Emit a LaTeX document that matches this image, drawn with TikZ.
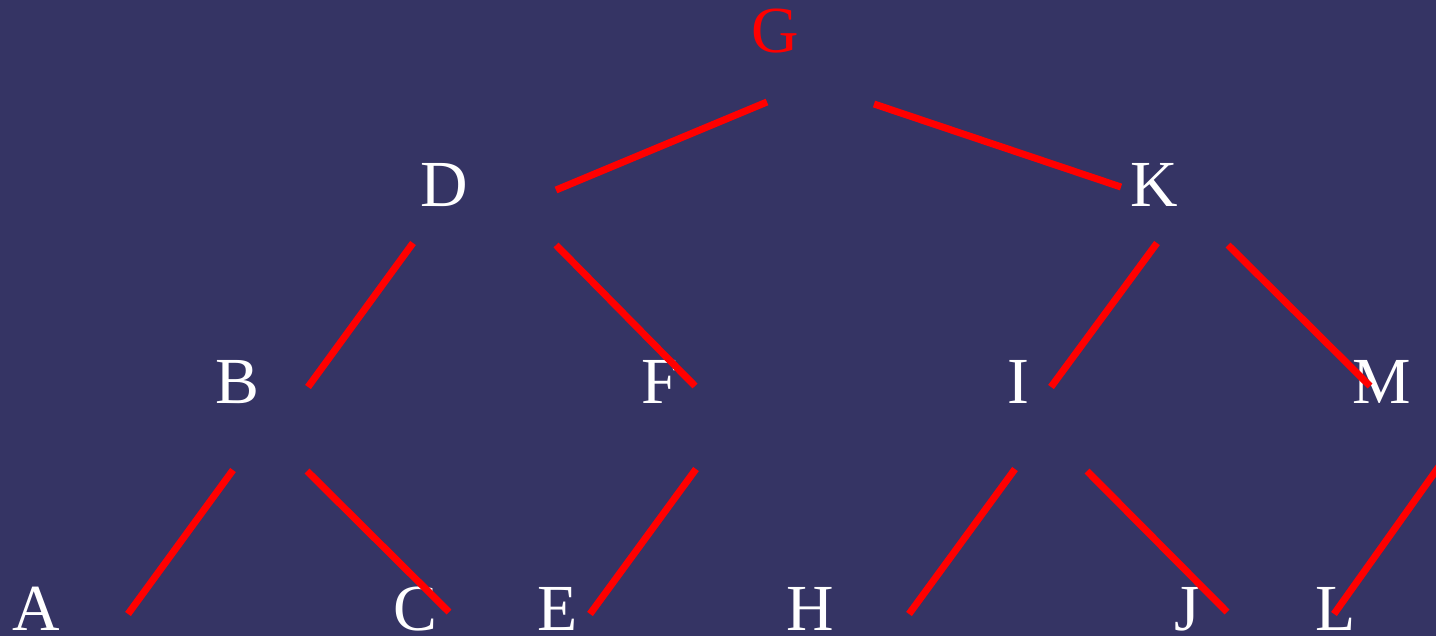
\documentclass[tikz,border=0pt]{standalone}
\usepackage{fontspec}
\setmainfont{Liberation Serif}
\usepackage{xcolor}
\usepackage{tikz}
\definecolor{bgblue}{RGB}{53,52,100}

\begin{document}
\begin{tikzpicture}[x=0.01cm,y=-0.01cm,
    letter/.style={text=white,anchor=base,inner sep=0pt,
                   font=\fontsize{18.7}{20}\selectfont},
    edge/.style={draw=red,line width=2pt}]
  \fill[bgblue] (0,0) rectangle (1436,636);
  \useasboundingbox (0,0) rectangle (1436,636);
  % letters, placed at their baselines
  \node[letter,text=red] (G) at (775,52) {G};
  \node[letter] (D) at (444,206) {D};
  \node[letter] (K) at (1154,206) {K};
  \node[letter] (B) at (237,403) {B};
  \node[letter] (F) at (660,403) {F};
  \node[letter] (I) at (1018,403) {I};
  \node[letter] (M) at (1382,403) {M};
  \node[letter] (A) at (36,630) {A};
  \node[letter] (C) at (415,630) {C};
  \node[letter] (E) at (558,630) {E};
  \node[letter] (H) at (810,630) {H};
  \node[letter] (J) at (1187,630) {J};
  \node[letter] (L) at (1336,630) {L};
  % branches (free segments between the rows)
  \foreach \e/\p/\q in {GD/{767,102}/{556,190},GK/{874,104}/{1121,187},
                        DB/{413,243}/{308,387},DF/{556,245}/{695,386},
                        KI/{1157,243}/{1051,387},KM/{1228,245}/{1370,386},
                        BA/{233,470}/{128,614},BC/{307,471}/{449,612},
                        FE/{696,469}/{590,614},IH/{1015,469}/{909,614},
                        IJ/{1087,471}/{1227,612},ML/{1440,465}/{1334,614}}{
    \coordinate (\e-top) at (\p);
    \coordinate (\e-bot) at (\q);
    \draw[edge] (\e-top) -- (\e-bot);
  }
\end{tikzpicture}
\end{document}
